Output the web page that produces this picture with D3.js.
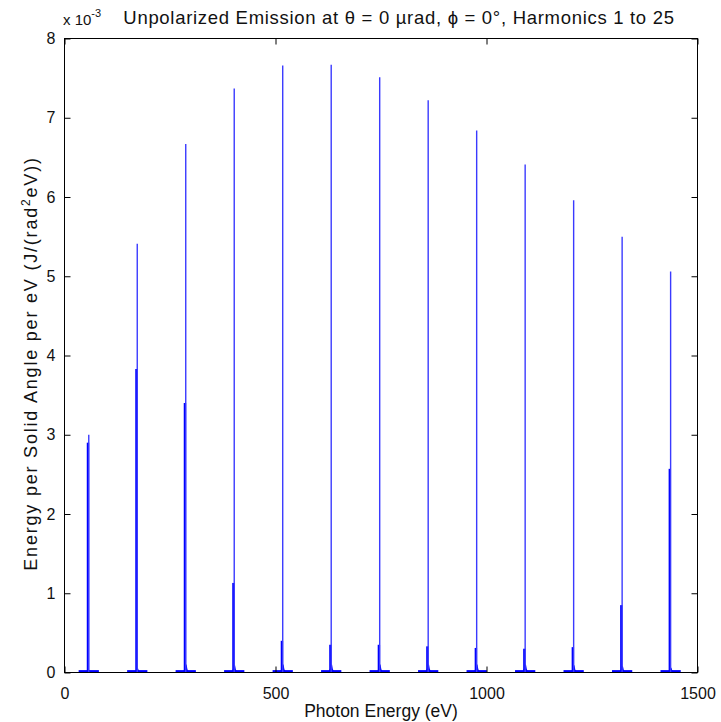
<!DOCTYPE html>
<html>
<head>
<meta charset="utf-8">
<script src="https://cdn.jsdelivr.net/npm/d3@7"></script>
<style>
  html, body { margin: 0; padding: 0; background: #fff; }
  svg text { font-family: "Liberation Sans", Arial, sans-serif; fill: #111; }
</style>
</head>
<body>
<svg id="chart" width="721" height="722"></svg>
<script>
// Odd harmonics of the undulator spectrum (values in units of 1e-3 J/(rad^2 eV))
const harmonics     = [1, 3, 5, 7, 9, 11, 13, 15, 17, 19, 21, 23, 25];
const peakEnergy    = [57.5, 172.4, 287.3, 402.2, 517.1, 632.0, 746.9, 861.8, 976.7, 1091.6, 1206.5, 1321.4, 1436.3];
const peakValue     = [3.00, 5.41, 6.67, 7.37, 7.66, 7.67, 7.51, 7.22, 6.84, 6.41, 5.96, 5.50, 5.06];
const shoulderValue = [2.90, 3.83, 3.40, 1.13, 0.40, 0.35, 0.35, 0.33, 0.31, 0.30, 0.32, 0.85, 2.57];
const bumpValue     = [0.03, 0.05, 0.10, 0.09, 0.10, 0.10, 0.10, 0.10, 0.10, 0.10, 0.09, 0.08, 0.06];
const pedestalValue = [0.015, 0.015, 0.015, 0.015, 0.015, 0.015, 0.015, 0.015, 0.015, 0.015, 0.015, 0.015, 0.015];

const xTicks = [0, 500, 1000, 1500];
const yTicks = [0, 1, 2, 3, 4, 5, 6, 7, 8];

const titleText = "Unpolarized Emission at \u03B8 = 0 \u00B5rad, \u03D5 = 0\u00B0, Harmonics 1 to 25";
const xLabel = "Photon Energy (eV)";

const margin = { left: 64.5, right: 721 - 697.5, top: 38.5, bottom: 722 - 672.5 };
const W = 721, H = 722;
const svg = d3.select("#chart");

const x = d3.scaleLinear().domain([0, 1500]).range([margin.left, W - margin.right]);
const y = d3.scaleLinear().domain([0, 8]).range([H - margin.bottom, margin.top]);

const blue = "#0000ff";
const data = harmonics.map((h, i) => ({
  h, e: peakEnergy[i], peak: peakValue[i], shoulder: shoulderValue[i],
  bump: bumpValue[i], ped: pedestalValue[i]
}));

const plot = svg.append("g");

// Low pedestal under each harmonic line, resting on the baseline
plot.selectAll("rect.ped").data(data).join("rect")
  .attr("class", "ped")
  .attr("x", d => x(d.e - 24)).attr("width", d => x(d.e + 24) - x(d.e - 24))
  .attr("y", d => y(d.ped) - 1.2).attr("height", d => y(0) - y(d.ped) + 1.2)
  .attr("fill", blue);

// Narrow base of each line
plot.selectAll("path.bump").data(data).join("path")
  .attr("class", "bump")
  .attr("d", d => {
    const p = d3.path();
    p.moveTo(x(d.e - 7), y(0));
    p.lineTo(x(d.e - 2), y(d.bump * 0.6));
    p.lineTo(x(d.e - 1), y(d.bump));
    p.lineTo(x(d.e + 2), y(d.bump));
    p.lineTo(x(d.e + 4), y(d.bump * 0.4));
    p.lineTo(x(d.e + 8), y(0));
    p.closePath();
    return p.toString();
  })
  .attr("fill", blue);

// Shoulder of each line
plot.selectAll("line.shoulder").data(data).join("line")
  .attr("class", "shoulder")
  .attr("x1", d => x(d.e) - 0.8).attr("x2", d => x(d.e) - 0.8)
  .attr("y1", y(0)).attr("y2", d => y(d.shoulder))
  .attr("stroke", blue).attr("stroke-width", 2.4);

// Peak of each harmonic
plot.selectAll("line.peak").data(data).join("line")
  .attr("class", "peak")
  .attr("x1", d => x(d.e)).attr("x2", d => x(d.e))
  .attr("y1", y(0)).attr("y2", d => y(d.peak))
  .attr("stroke", "#3a3aff").attr("stroke-width", 1.4);

// Axes box with inward ticks on all four sides
const axisColor = "#000";
svg.append("rect")
  .attr("x", x(0)).attr("y", y(8))
  .attr("width", x(1500) - x(0)).attr("height", y(0) - y(8))
  .attr("fill", "none").attr("stroke", axisColor).attr("stroke-width", 1);

const tickLen = 6;
const tickFont = 16;
const labelFont = 17.5;

const gxb = svg.append("g").attr("transform", `translate(0,${y(0)})`)
  .call(d3.axisBottom(x).tickValues(xTicks).tickSize(-tickLen).tickPadding(tickLen + 9).tickFormat(d3.format("d")));
const gxt = svg.append("g").attr("transform", `translate(0,${y(8)})`)
  .call(d3.axisTop(x).tickValues(xTicks).tickSize(-tickLen).tickFormat(""));
const gyl = svg.append("g").attr("transform", `translate(${x(0)},0)`)
  .call(d3.axisLeft(y).tickValues(yTicks).tickSize(-tickLen).tickPadding(tickLen + 3).tickFormat(d3.format("d")));
const gyr = svg.append("g").attr("transform", `translate(${x(1500)},0)`)
  .call(d3.axisRight(y).tickValues(yTicks).tickSize(-tickLen).tickFormat(""));

[gxb, gxt, gyl, gyr].forEach(g => {
  g.attr("font-family", null).attr("font-size", null);
  g.select(".domain").remove();
  g.selectAll(".tick line").attr("stroke", axisColor);
  g.selectAll(".tick text").attr("font-size", tickFont);
});

// Exponent marker above the y axis
const expo = svg.append("text").attr("x", 63).attr("y", 25).attr("font-size", 15);
expo.append("tspan").text("x 10");
expo.append("tspan").attr("dy", -8).attr("font-size", 11).text("-3");

// Title
svg.append("text")
  .attr("x", 399).attr("y", 24)
  .attr("text-anchor", "middle").attr("font-size", 18.5)
  .attr("letter-spacing", 0.7)
  .text(titleText);

// X axis label
svg.append("text")
  .attr("x", (x(0) + x(1500)) / 2).attr("y", 717)
  .attr("text-anchor", "middle").attr("font-size", labelFont)
  .text(xLabel);

// Y axis label with superscript
const yl = svg.append("text")
  .attr("transform", `translate(37,${(y(0) + y(8)) / 2 + 8}) rotate(-90)`)
  .attr("text-anchor", "middle").attr("font-size", 18)
  .attr("letter-spacing", 1.8);
yl.append("tspan").text("Energy per Solid Angle per eV (J/(rad");
yl.append("tspan").attr("dy", -7).attr("font-size", 12).text("2");
yl.append("tspan").attr("dy", 7).text("eV))");
</script>
</body>
</html>
